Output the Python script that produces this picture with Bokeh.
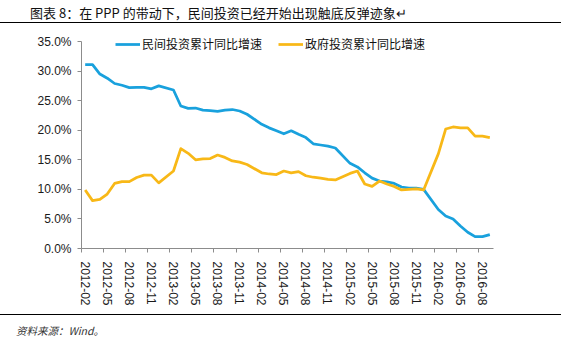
from bokeh.plotting import figure
from bokeh.models import (FixedTicker, PrintfTickFormatter, Legend, LegendItem,
                          ColumnDataSource, Range1d, Div)
from bokeh.layouts import column
from bokeh.embed import file_html
from bokeh.resources import INLINE

# ---------------- data ----------------
months = [
    "2012-02", "2012-03", "2012-04", "2012-05", "2012-06", "2012-07", "2012-08", "2012-09", "2012-10", "2012-11", "2012-12",
    "2013-02", "2013-03", "2013-04", "2013-05", "2013-06", "2013-07", "2013-08", "2013-09", "2013-10", "2013-11", "2013-12",
    "2014-02", "2014-03", "2014-04", "2014-05", "2014-06", "2014-07", "2014-08", "2014-09", "2014-10", "2014-11", "2014-12",
    "2015-02", "2015-03", "2015-04", "2015-05", "2015-06", "2015-07", "2015-08", "2015-09", "2015-10", "2015-11", "2015-12",
    "2016-02", "2016-03", "2016-04", "2016-05", "2016-06", "2016-07", "2016-08", "2016-09",
]
private_inv = [
    31.1, 31.1, 29.5, 28.8, 27.9, 27.6, 27.2, 27.25, 27.25, 27.0, 27.5,
    26.8, 24.1, 23.7, 23.75, 23.4, 23.3, 23.2, 23.4, 23.5, 23.25, 22.7,
    21.0, 20.4, 19.9, 19.4, 19.9, 19.3, 18.75, 17.7, 17.5, 17.3, 17.0,
    14.4, 13.8, 12.8, 11.9, 11.4, 11.25, 11.0, 10.4, 10.2, 10.2, 10.0,
    6.6, 5.5, 5.0, 3.8, 2.75, 2.0, 2.0, 2.35,
]
gov_inv = [
    9.9, 8.1, 8.3, 9.2, 11.0, 11.3, 11.3, 12.0, 12.4, 12.4, 11.1,
    13.1, 16.9, 16.1, 15.0, 15.15, 15.2, 15.8, 15.4, 14.8, 14.6, 14.2,
    12.8, 12.6, 12.5, 13.1, 12.8, 13.0, 12.3, 12.05, 11.9, 11.7, 11.6,
    12.7, 13.1, 10.9, 10.5, 11.4, 10.9, 10.5, 9.9, 10.0, 10.1, 9.9,
    16.0, 20.2, 20.55, 20.4, 20.4, 19.0, 19.0, 18.75,
]
tick_labels = [
    "2012-02", "2012-05", "2012-08", "2012-11", "2013-02", "2013-05", "2013-08", "2013-11",
    "2014-02", "2014-05", "2014-08", "2014-11", "2015-02", "2015-05", "2015-08", "2015-11",
    "2016-02", "2016-05", "2016-08",
]
y_ticks = [0, 5, 10, 15, 20, 25, 30, 35]
series_names = ["民间投资累计同比增速", "政府投资累计同比增速"]
title_text = "图表 8：在 PPP 的带动下，民间投资已经开始出现触底反弹迹象↵"
source_text = "资料来源：Wind。"


def month_index(s):
    y, m = s.split("-")
    return (int(y) - 2012) * 12 + int(m) - 2


BLUE = "#19A1DD"
YELLOW = "#F8B817"
AXIS = "#8C8C8C"
FONT = "Liberation Sans"
CJK = "Noto Sans CJK SC"

src = ColumnDataSource(dict(
    x=[month_index(m) for m in months],
    month=months,
    private=private_inv,
    gov=gov_inv,
))

# figure occupies canvas rows 23..314; frame: left 81, right 493, top 28, bottom 248
p = figure(width=561, height=291, output_backend="svg", toolbar_location=None,
           x_range=Range1d(-0.5, 55.5), y_range=Range1d(0, 37.2),
           min_border_left=81, min_border_right=68, min_border_top=5,
           min_border_bottom=66, title=None)
p.outline_line_color = None
p.xgrid.visible = False
p.ygrid.visible = False
p.background_fill_color = "white"
p.border_fill_color = "white"

# x axis
tick_pos = [month_index(t) for t in tick_labels]
p.xaxis.ticker = FixedTicker(ticks=tick_pos, minor_ticks=[t - 0.5 for t in tick_pos])
p.xaxis.major_label_overrides = {t: lab for t, lab in zip(tick_pos, tick_labels)}
p.xaxis.major_label_orientation = "vertical"
p.xaxis.major_tick_out = 0
p.xaxis.major_tick_in = 0
p.xaxis.minor_tick_out = 4
p.xaxis.minor_tick_in = 0
p.xaxis.minor_tick_line_color = AXIS
p.xaxis.axis_line_color = AXIS
p.xaxis.major_label_standoff = 9
p.xaxis.major_label_text_font = FONT
p.xaxis.major_label_text_font_size = "12px"
p.xaxis.major_label_text_color = "#1a1a1a"

# y axis
p.yaxis.ticker = FixedTicker(ticks=y_ticks)
p.yaxis.bounds = (0, 35)
p.yaxis.formatter = PrintfTickFormatter(format="%.1f%%")
p.yaxis.major_tick_out = 4
p.yaxis.major_tick_in = 0
p.yaxis.minor_tick_out = 0
p.yaxis.minor_tick_in = 0
p.yaxis.major_tick_line_color = AXIS
p.yaxis.axis_line_color = AXIS
p.yaxis.major_label_standoff = 6
p.yaxis.major_label_text_font = FONT
p.yaxis.major_label_text_font_size = "12px"
p.yaxis.major_label_text_color = "#1a1a1a"

r1 = p.line("x", "private", source=src, line_color=BLUE, line_width=2.75, line_join="round")
r2 = p.line("x", "gov", source=src, line_color=YELLOW, line_width=2.75, line_join="round")

legend = Legend(items=[LegendItem(label=series_names[0], renderers=[r1]),
                       LegendItem(label=series_names[1], renderers=[r2])],
                orientation="horizontal", location=(34, 196),
                label_text_font=CJK, label_text_font_size="12px", label_text_color="#111",
                glyph_width=25, glyph_height=14, label_height=14, label_standoff=2,
                spacing=16, padding=0, margin=0, border_line_color=None,
                background_fill_alpha=0)
p.add_layout(legend)

title_div = Div(
    text=('<div style="box-sizing:border-box;width:561px;height:23px;'
          'border-bottom:1.7px solid #000;padding:3px 0 0 30px;'
          "font-family:'Noto Sans CJK SC';font-size:13px;line-height:19px;"
          'color:#111;white-space:nowrap;">' + title_text + '</div>'),
    width=561, height=23, margin=0)
source_div = Div(
    text=('<div style="box-sizing:border-box;width:561px;height:34px;'
          'border-top:1.7px solid #000;padding:9px 0 0 16px;'
          "font-family:'Noto Sans CJK SC';font-size:10.5px;font-style:italic;"
          'line-height:14px;color:#333;white-space:nowrap;">' + source_text + '</div>'),
    width=561, height=34, margin=0)

layout = column(title_div, p, source_div, spacing=0)
open("out.html", "w").write(file_html(layout, INLINE))
